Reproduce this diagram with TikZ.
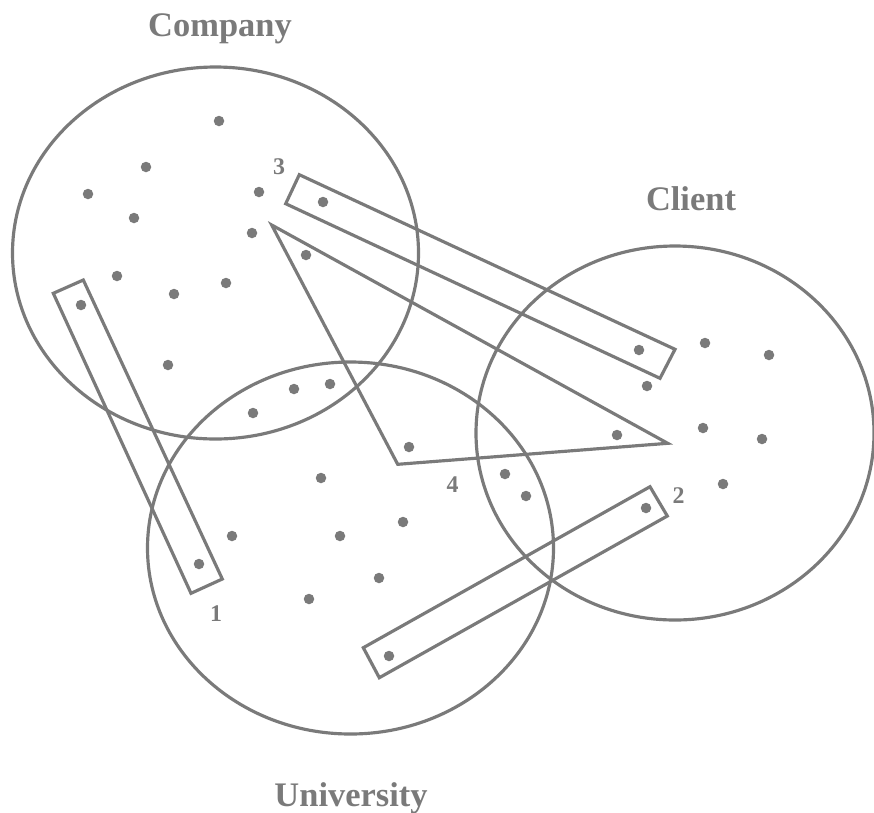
\documentclass[tikz,border=0pt]{standalone}
\usepackage{fontspec}
\setmainfont{Liberation Serif}
\usetikzlibrary{positioning}
\definecolor{penGray}{RGB}{122,122,122}

\begin{document}
\begin{tikzpicture}[x=0.02cm, y=-0.02cm,
    group/.style={draw=penGray, line width=1.8pt},
    hedge/.style={draw=penGray, line width=1.8pt, line join=miter},
    vertex/.style={circle, fill=penGray, inner sep=0pt, minimum size=0.21cm},
    grouplabel/.style={text=penGray, anchor=base, font=\fontsize{19.6}{22}\selectfont\bfseries},
    edgelabel/.style={text=penGray, anchor=base, font=\fontsize{13.6}{15}\selectfont\bfseries}]

  \useasboundingbox (0,0) rectangle (874,812);

  % the three groups
  \draw[group] (215.5,253) ellipse [x radius=203, y radius=186];
  \draw[group] (675,433) ellipse [x radius=199, y radius=187];
  \draw[group] (350.5,548) ellipse [x radius=203, y radius=186];

  \node[grouplabel] (company) at (220,36.5) {Company};
  \node[grouplabel] (client) at (691,210.5) {Client};
  \node[grouplabel] (university) at (351,806) {University};

  % hyperedges
  \draw[hedge] (53.3,293.3) -- (83.3,280) -- (222.3,579) -- (191,593.3) -- cycle;
  \draw[hedge] (650,486.7) -- (667.3,516) -- (379.3,677.7) -- (363.3,647.7) -- cycle;
  \draw[hedge] (299.3,174.7) -- (675,349.3) -- (660,378.3) -- (285.7,203.7) -- cycle;
  \draw[hedge] (271.7,225) -- (667.7,443.3) -- (397.7,464.3) -- cycle;

  \node[edgelabel] (e1) at (216,621.5) {1};
  \node[edgelabel] (e2) at (678.5,503.5) {2};
  \node[edgelabel] (e3) at (279,174) {3};
  \node[edgelabel] (e4) at (452.5,492.5) {4};

  % members
  \foreach \px/\py [count=\i] in {
      219/121, 146/167, 88/194, 259/192, 134/218, 252/233, 117/276,
      226/283, 174/294, 168/365, 323/202, 639/350, 306/255, 409/447,
      617/435, 330/384, 294/389, 253/413, 81/305, 199/564, 705/343,
      769/355, 647/386, 703/428, 762/439, 723/484, 505/474, 526/496,
      646/508, 389/656, 321/478, 232/536, 340/536, 403/522, 379/578,
      309/599}
    \node[vertex] (v\i) at (\px,\py) {};
\end{tikzpicture}
\end{document}
